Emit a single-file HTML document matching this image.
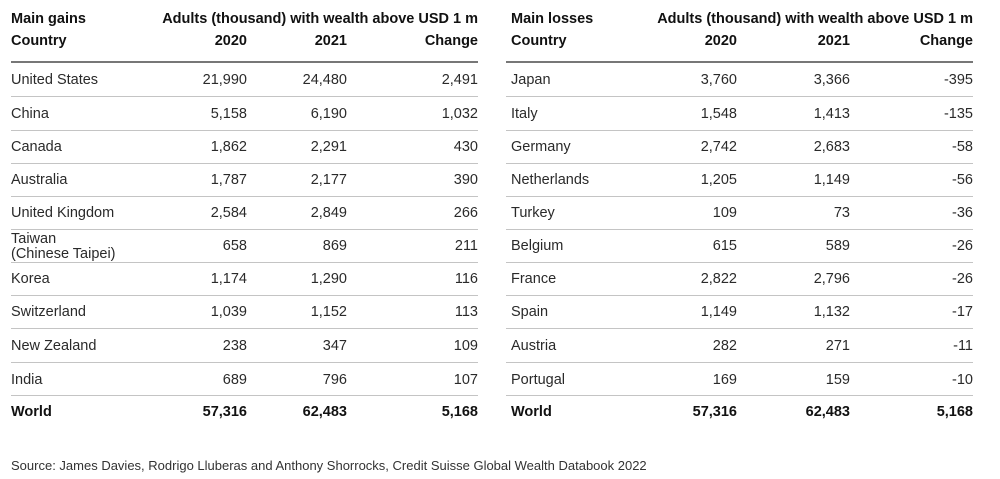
<!DOCTYPE html>
<html><head><meta charset="utf-8"><style>
body{margin:0;width:1000px;height:479px;background:#fff;font-family:"Liberation Sans",sans-serif;color:#2a2a2a;position:relative;overflow:hidden}
.t{position:absolute;top:1px}
.r{position:absolute;left:0;right:0;height:20px;font-size:14.5px;line-height:20px}
.r span{position:absolute;white-space:nowrap}
.b{font-weight:bold;color:#111}
.l{position:absolute;left:0;right:0;height:1px;background:#c4c4c4;margin-top:-1px}
.h{height:2px;background:#777}
.src{position:absolute;left:11px;top:458px;font-size:13px;color:#333}
</style></head><body>

<div class="t" style="left:11px;width:467px">
<div class="r b" style="top:8px"><span style="left:0">Main gains</span><span style="right:0">Adults (thousand) with wealth above USD 1 m</span></div>
<div class="r b" style="top:30px"><span style="left:0">Country</span><span style="right:231px">2020</span><span style="right:131px">2021</span><span style="right:0">Change</span></div>
<div class="l h" style="top:61px"></div>
<div class="r" style="top:69px"><span style="left:0">United States</span><span style="right:231px">21,990</span><span style="right:131px">24,480</span><span style="right:0">2,491</span></div>
<div class="l" style="top:96px"></div>
<div class="r" style="top:103px"><span style="left:0">China</span><span style="right:231px">5,158</span><span style="right:131px">6,190</span><span style="right:0">1,032</span></div>
<div class="l" style="top:130px"></div>
<div class="r" style="top:136px"><span style="left:0">Canada</span><span style="right:231px">1,862</span><span style="right:131px">2,291</span><span style="right:0">430</span></div>
<div class="l" style="top:163px"></div>
<div class="r" style="top:169px"><span style="left:0">Australia</span><span style="right:231px">1,787</span><span style="right:131px">2,177</span><span style="right:0">390</span></div>
<div class="l" style="top:196px"></div>
<div class="r" style="top:202px"><span style="left:0">United Kingdom</span><span style="right:231px">2,584</span><span style="right:131px">2,849</span><span style="right:0">266</span></div>
<div class="l" style="top:229px"></div>
<div class="r" style="top:235px"><span style="left:0;top:-4px;line-height:15px">Taiwan<br>(Chinese Taipei)</span><span style="right:231px">658</span><span style="right:131px">869</span><span style="right:0">211</span></div>
<div class="l" style="top:262px"></div>
<div class="r" style="top:268px"><span style="left:0">Korea</span><span style="right:231px">1,174</span><span style="right:131px">1,290</span><span style="right:0">116</span></div>
<div class="l" style="top:295px"></div>
<div class="r" style="top:301px"><span style="left:0">Switzerland</span><span style="right:231px">1,039</span><span style="right:131px">1,152</span><span style="right:0">113</span></div>
<div class="l" style="top:328px"></div>
<div class="r" style="top:335px"><span style="left:0">New Zealand</span><span style="right:231px">238</span><span style="right:131px">347</span><span style="right:0">109</span></div>
<div class="l" style="top:362px"></div>
<div class="r" style="top:369px"><span style="left:0">India</span><span style="right:231px">689</span><span style="right:131px">796</span><span style="right:0">107</span></div>
<div class="l" style="top:395px"></div>
<div class="r b" style="top:401px"><span style="left:0">World</span><span style="right:231px">57,316</span><span style="right:131px">62,483</span><span style="right:0">5,168</span></div>
</div>

<div class="t" style="left:506px;width:467px">
<div class="r b" style="top:8px"><span style="left:5px">Main losses</span><span style="right:0">Adults (thousand) with wealth above USD 1 m</span></div>
<div class="r b" style="top:30px"><span style="left:5px">Country</span><span style="right:236px">2020</span><span style="right:123px">2021</span><span style="right:0">Change</span></div>
<div class="l h" style="top:61px"></div>
<div class="r" style="top:69px"><span style="left:5px">Japan</span><span style="right:236px">3,760</span><span style="right:123px">3,366</span><span style="right:0">-395</span></div>
<div class="l" style="top:96px"></div>
<div class="r" style="top:103px"><span style="left:5px">Italy</span><span style="right:236px">1,548</span><span style="right:123px">1,413</span><span style="right:0">-135</span></div>
<div class="l" style="top:130px"></div>
<div class="r" style="top:136px"><span style="left:5px">Germany</span><span style="right:236px">2,742</span><span style="right:123px">2,683</span><span style="right:0">-58</span></div>
<div class="l" style="top:163px"></div>
<div class="r" style="top:169px"><span style="left:5px">Netherlands</span><span style="right:236px">1,205</span><span style="right:123px">1,149</span><span style="right:0">-56</span></div>
<div class="l" style="top:196px"></div>
<div class="r" style="top:202px"><span style="left:5px">Turkey</span><span style="right:236px">109</span><span style="right:123px">73</span><span style="right:0">-36</span></div>
<div class="l" style="top:229px"></div>
<div class="r" style="top:235px"><span style="left:5px">Belgium</span><span style="right:236px">615</span><span style="right:123px">589</span><span style="right:0">-26</span></div>
<div class="l" style="top:262px"></div>
<div class="r" style="top:268px"><span style="left:5px">France</span><span style="right:236px">2,822</span><span style="right:123px">2,796</span><span style="right:0">-26</span></div>
<div class="l" style="top:295px"></div>
<div class="r" style="top:301px"><span style="left:5px">Spain</span><span style="right:236px">1,149</span><span style="right:123px">1,132</span><span style="right:0">-17</span></div>
<div class="l" style="top:328px"></div>
<div class="r" style="top:335px"><span style="left:5px">Austria</span><span style="right:236px">282</span><span style="right:123px">271</span><span style="right:0">-11</span></div>
<div class="l" style="top:362px"></div>
<div class="r" style="top:369px"><span style="left:5px">Portugal</span><span style="right:236px">169</span><span style="right:123px">159</span><span style="right:0">-10</span></div>
<div class="l" style="top:395px"></div>
<div class="r b" style="top:401px"><span style="left:5px">World</span><span style="right:236px">57,316</span><span style="right:123px">62,483</span><span style="right:0">5,168</span></div>
</div>

<div class="src">Source: James Davies, Rodrigo Lluberas and Anthony Shorrocks, Credit Suisse Global Wealth Databook 2022</div>
</body></html>
